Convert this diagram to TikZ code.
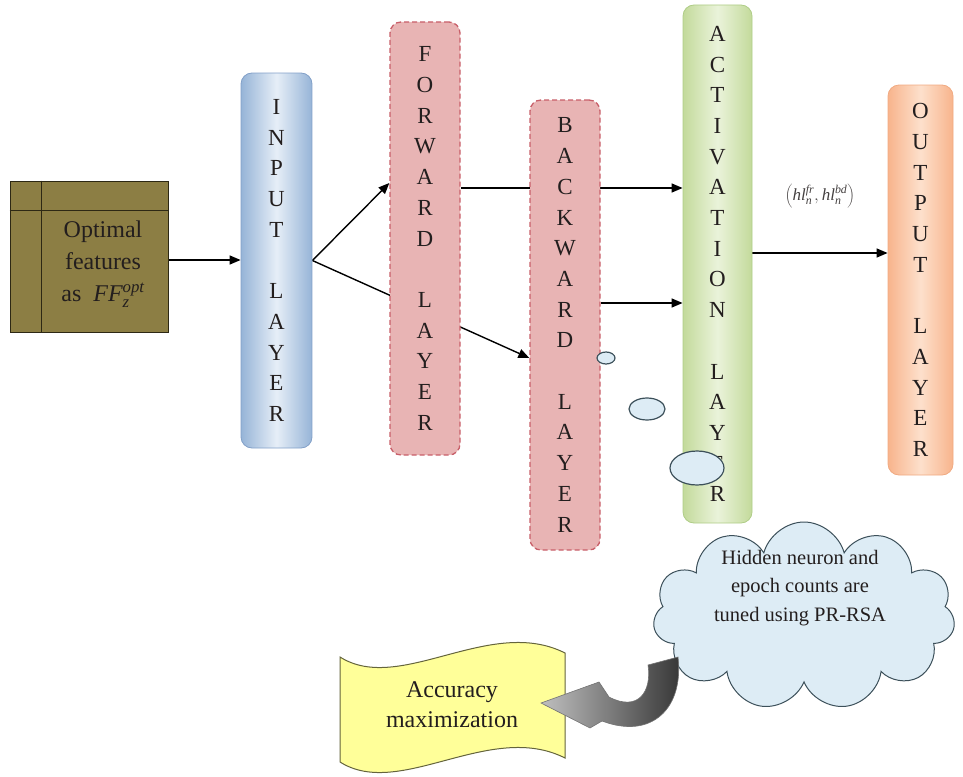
\documentclass[tikz,border=0pt]{standalone}
\usepackage{fontspec}
\setmainfont{Liberation Serif}
\usetikzlibrary{arrows.meta,shapes.geometric,shapes.symbols,calc}
\pgfdeclarelayer{bg}
\pgfsetlayers{bg,main}
\definecolor{featfill}{RGB}{140,126,68}
\definecolor{featedge}{RGB}{45,40,20}
\definecolor{inedge}{RGB}{150,180,215}
\definecolor{inmid}{RGB}{230,238,247}
\definecolor{inborder}{RGB}{130,160,200}
\definecolor{fwdfill}{RGB}{232,180,180}
\definecolor{fwddash}{RGB}{200,95,105}
\definecolor{actedge}{RGB}{195,218,155}
\definecolor{actmid}{RGB}{234,243,218}
\definecolor{actborder}{RGB}{175,205,135}
\definecolor{outedge}{RGB}{248,180,140}
\definecolor{outmid}{RGB}{253,224,204}
\definecolor{outborder}{RGB}{240,170,130}
\definecolor{bubble}{RGB}{221,236,245}
\definecolor{bubbleedge}{RGB}{60,80,90}
\definecolor{scrollfill}{RGB}{255,255,153}
\definecolor{scrolledge}{RGB}{100,100,60}
\definecolor{txt}{RGB}{35,30,30}
\begin{document}
\begin{tikzpicture}[x=1pt,y=-1pt,
  layerbox/.style={rectangle, rounded corners=11pt, inner sep=0pt, align=center,
    font=\fontsize{23}{30.7}\selectfont, text=txt},
  dashbox/.style={layerbox, fill=fwdfill, draw=fwddash, line width=1.3pt,
    dash pattern=on 5pt off 3pt},
  arr/.style={line width=1.4pt, -{Triangle[length=11pt,width=9pt]}},
  bubbleshape/.style={ellipse, draw=bubbleedge, fill=bubble, line width=1.2pt, inner sep=0pt}
]
\useasboundingbox (0,0) rectangle (963,776);

% features box
\node[rectangle, draw=featedge, fill=featfill, line width=1pt,
  minimum width=158pt, minimum height=151pt] (feat) at (89,256.5) {};
\draw[featedge, line width=1pt] ([xshift=32pt]feat.north west) -- ([xshift=32pt]feat.south west);
\draw[featedge, line width=1pt] ([yshift=-30pt]feat.north west) -- ([yshift=-30pt]feat.north east);
\node[font=\fontsize{24}{32}\selectfont, align=center, text=txt] (feattxt) at (103,264)
  {Optimal\\features\\as~~$\mathit{FF}_{\mathit{z}}^{\mathit{opt}}$};

% layers
\node[layerbox, minimum width=71pt, minimum height=375pt, draw=inborder, line width=0.8pt,
  left color=inedge, right color=inedge, middle color=inmid] (input) at (276.5,260.5)
  {I\\N\\P\\U\\T\\[30.7pt]L\\A\\Y\\E\\R};
\node[dashbox, minimum width=70pt, minimum height=433pt] (forward) at (425,238.5)
  {F\\O\\R\\W\\A\\R\\D\\[30.7pt]L\\A\\Y\\E\\R};
\node[dashbox, minimum width=70pt, minimum height=450pt] (backward) at (565,325)
  {B\\A\\C\\K\\W\\A\\R\\D\\[30.7pt]L\\A\\Y\\E\\R};
\node[layerbox, minimum width=69pt, minimum height=518pt, draw=actborder, line width=0.8pt,
  left color=actedge, right color=actedge, middle color=actmid] (activ) at (717.5,264)
  {A\\C\\T\\I\\V\\A\\T\\I\\O\\N\\[30.7pt]L\\A\\Y\\E\\R};
\node[layerbox, minimum width=65pt, minimum height=390pt, draw=outborder, line width=0.8pt,
  left color=outedge, right color=outedge, middle color=outmid] (output) at (920.5,280)
  {O\\U\\T\\P\\U\\T\\[30.7pt]L\\A\\Y\\E\\R};

% connectors
\begin{pgfonlayer}{bg}
\draw[arr] ([yshift=-3.5pt]feat.east) -- ([yshift=-3.5pt]feat.east -| input.west);
\draw[arr] (input.east) -- ([yshift=55.5pt]forward.west);
\draw[arr] (input.east) -- ([yshift=-33pt]backward.west);
\draw[arr] ([yshift=50.5pt]forward.east) -- ([yshift=50.5pt]forward.east -| activ.west);
\draw[arr] ([yshift=22pt]backward.east) -- ([yshift=22pt]backward.east -| activ.west);
\draw[arr] ([yshift=11pt]activ.east) -- ([yshift=11pt]activ.east -| output.west);
\end{pgfonlayer}

\node[font=\fontsize{17}{19}\selectfont, text=txt!85] (lab) at (820,196)
  {$\left(\mathit{hl}_{\mathit{n}}^{\mathit{fr}},\mathit{hl}_{\mathit{n}}^{\mathit{bd}}\right)$};

% thought bubbles
\node[bubbleshape, minimum width=18pt, minimum height=12pt] (e1) at (606,358) {};
\node[bubbleshape, minimum width=36pt, minimum height=22pt] (e2) at (647,409) {};
\node[bubbleshape, minimum width=54pt, minimum height=34pt] (e3) at (697,468) {};

% cloud
\node[cloud, cloud puffs=11, cloud ignores aspect, minimum width=302pt, minimum height=188pt,
  draw=bubbleedge, fill=bubble, line width=1pt] (cloud) at (804,616) {};
\node[font=\fontsize{20.5}{28.5}\selectfont, align=center, text=txt] (cloudtxt) at (800,588)
  {Hidden neuron and\\epoch counts are\\tuned using PR-RSA};

% scroll
\draw[fill=scrollfill, draw=scrolledge, line width=1pt]
  (340,657) .. controls (400,695) and (490,615) .. (565,653)
  -- (565,758) .. controls (490,720) and (400,800) .. (340,762) -- cycle;
\node[font=\fontsize{24}{30}\selectfont, align=center, text=txt] (acc) at (452,705)
  {Accuracy\\maximization};

% curved block arrow
\shade[left color=black!25, right color=black!80, draw=black!55, line width=0.6pt]
  (648,665) -- (678,657) .. controls (684,708) and (652,740) .. (602,721)
  -- (590,728) -- (541,703) -- (599,682) -- (609,697)
  .. controls (638,712) and (652,692) .. (648,665) -- cycle;
\end{tikzpicture}
\end{document}
